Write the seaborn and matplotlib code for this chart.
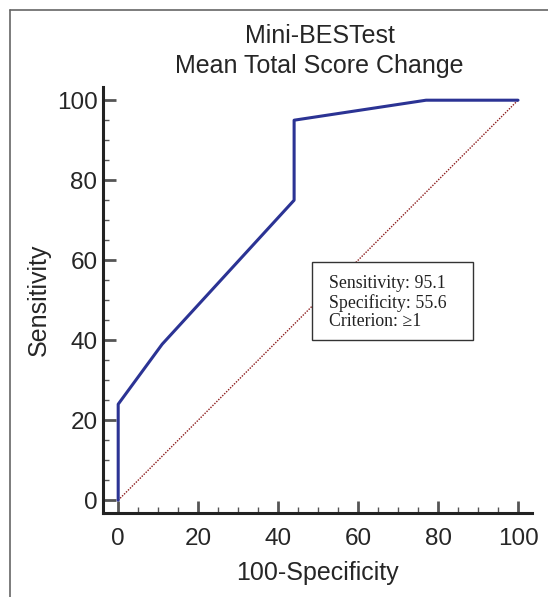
"""
ROC curve for Mini-BESTest mean total score change.
"""

import matplotlib
matplotlib.use("Agg")
import matplotlib.pyplot as plt
from matplotlib.lines import Line2D
from matplotlib.patches import Rectangle
from matplotlib.ticker import MultipleLocator
import pandas as pd
import seaborn as sns

# ROC points
fpr = [0, 0, 11, 44, 44, 77, 100]
tpr = [0, 24, 39, 75, 95, 100, 100]
diag = [0, 100]
ticks = [0, 20, 40, 60, 80, 100]
box_text = "Sensitivity: 95.1\nSpecificity: 55.6\nCriterion: \u22651"

sns.set_style("ticks")
plt.rcParams["font.family"] = ["Liberation Sans", "DejaVu Sans"]

fig = plt.figure(figsize=(5.48, 5.97), dpi=100)
ax = fig.add_axes([103 / 548, 1 - 513 / 597, (532 - 103) / 548, (513 - 87) / 597])

roc = pd.DataFrame({"fpr": fpr, "tpr": tpr})
sns.lineplot(data=roc, x="fpr", y="tpr", sort=False, estimator=None,
             color="#2b3394", linewidth=2.2, ax=ax, clip_on=False, zorder=3)
ax.plot(diag, diag, linestyle=(0, (1, 1)), color="#8b1a1a", linewidth=1.0, zorder=2)

ax.set_xlim(-3.8, 103.5)
ax.set_ylim(-3.2, 103.3)
ax.set_xticks(ticks)
ax.set_yticks(ticks)
ax.xaxis.set_minor_locator(MultipleLocator(5))
ax.yaxis.set_minor_locator(MultipleLocator(5))
ax.tick_params(which="major", direction="in", length=9, width=2, color="#555555",
               labelsize=17.5)
ax.tick_params(which="minor", direction="in", length=4.5, width=1, color="#555555")
ax.tick_params(axis="x", which="major", pad=11)
ax.tick_params(axis="y", which="major", pad=4)

sns.despine(ax=ax)
for side in ["left", "bottom"]:
    ax.spines[side].set_linewidth(2.2)
    ax.spines[side].set_color("#222222")

ax.set_xlabel("100-Specificity", fontsize=18, labelpad=8)
ax.set_ylabel("Sensitivity", fontsize=18, labelpad=4)

fig.text(0.583, 1 - 36 / 597, "Mini-BESTest", ha="center", va="center", fontsize=18)
fig.text(0.583, 1 - 66 / 597, "Mean Total Score Change", ha="center", va="center", fontsize=18)

# info box
ax.add_patch(Rectangle((48.5, 40.0), 40.3, 19.5, facecolor="white", edgecolor="#333333",
                       linewidth=1.0, zorder=4))
ax.text(52.8, 56.3, box_text, family=["Liberation Serif", "DejaVu Serif"], fontsize=12.8,
        va="top", ha="left", linespacing=1.12, color="#222222", zorder=5)

# outer frame of the panel
fig.add_artist(Line2D([10 / 548, 10 / 548], [0, 1 - 10 / 597], color="#666666", linewidth=1.2))
fig.add_artist(Line2D([10 / 548, 1], [1 - 10 / 597, 1 - 10 / 597], color="#666666", linewidth=1.2))

fig.savefig("out.png", dpi=100)
